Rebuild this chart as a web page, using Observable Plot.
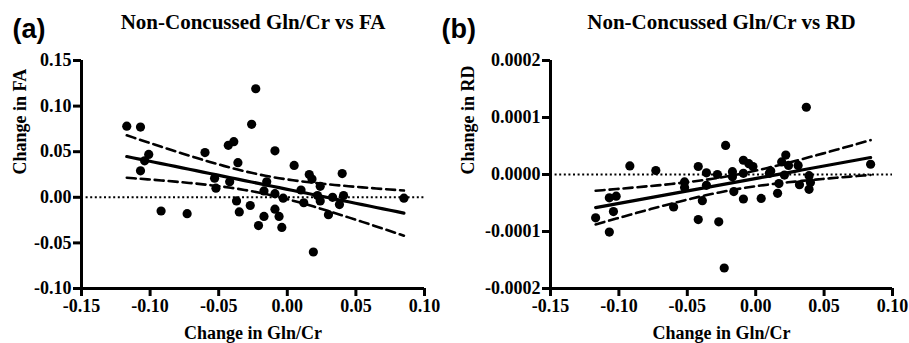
<!DOCTYPE html>
<html>
<head>
<meta charset="utf-8">
<script src="https://cdn.jsdelivr.net/npm/d3@7"></script>
<script src="https://cdn.jsdelivr.net/npm/@observablehq/plot@0.6"></script>
<style>
  html, body { margin: 0; padding: 0; background: #fff; }
  #wrap { position: relative; width: 909px; height: 343px; overflow: hidden; background: #fff; }
  #wrap > div, #wrap > svg { position: absolute; top: 0; }
</style>
</head>
<body>
<div id="wrap"></div>
<script>
// ---- Data ----
const xTicks = [-0.15, -0.10, -0.05, 0.00, 0.05, 0.10];
const faTicks = [-0.10, -0.05, 0.00, 0.05, 0.10, 0.15];
const rdTicks = [-0.0002, -0.0001, 0.0000, 0.0001, 0.0002];

const faX = [-0.117, -0.107, -0.101, -0.104, -0.107, -0.092, -0.073, -0.060, -0.053, -0.052,
             -0.043, -0.039, -0.036, -0.042, -0.037, -0.035, -0.027, -0.026, -0.023, -0.017,
             -0.021, -0.009, -0.015, -0.017, -0.009, -0.003, -0.009, -0.006, -0.004, 0.019,
             0.005, 0.010, 0.012, 0.016, 0.018, 0.024, 0.022, 0.024, 0.030, 0.033,
             0.040, 0.041, 0.038, 0.085];
const faY = [0.078, 0.077, 0.047, 0.040, 0.029, -0.015, -0.018, 0.049, 0.021, 0.010,
             0.057, 0.061, 0.038, 0.017, -0.004, -0.016, -0.009, 0.080, 0.119, -0.021,
             -0.031, 0.051, 0.017, 0.007, 0.004, -0.001, -0.013, -0.021, -0.033, -0.060,
             0.035, 0.008, -0.006, 0.025, 0.020, 0.012, 0.002, -0.004, -0.019, 0.000,
             0.026, 0.002, -0.008, -0.001];

const rdX = [-0.117, -0.107, -0.102, -0.104, -0.107, -0.092, -0.073, -0.060, -0.052, -0.052,
             -0.042, -0.036, -0.036, -0.039, -0.042, -0.027, -0.023, -0.028, -0.022, -0.017,
             -0.017, -0.016, -0.009, -0.009, -0.005, -0.009, -0.002, 0.004, 0.010, 0.016,
             0.017, 0.022, 0.019, 0.024, 0.031, 0.021, 0.032, 0.039, 0.040, 0.039,
             0.084, 0.037, 0.011];
const rdY = [-7.6e-5, -4.1e-5, -3.8e-5, -6.5e-5, -10.1e-5, 1.5e-5, 0.7e-5, -5.7e-5, -1.3e-5, -2.3e-5,
             1.4e-5, 0.3e-5, -1.9e-5, -4.6e-5, -7.9e-5, -8.3e-5, -16.4e-5, 0.0, 5.1e-5, 0.5e-5,
             -0.4e-5, -3.0e-5, -4.3e-5, 2.5e-5, 1.9e-5, 0.2e-5, 1.4e-5, -4.2e-5, 0.2e-5, -3.3e-5,
             -1.6e-5, 3.4e-5, 2.2e-5, 1.6e-5, 1.6e-5, -0.1e-5, -1.8e-5, -0.2e-5, -1.4e-5, -2.6e-5,
             1.8e-5, 11.8e-5, 0.6e-5];

const tCrit = 2.02; // 95% two-sided t value, df ≈ 41–42

// ---- Linear regression with 95% confidence band ----
function fit(xs, ys) {
  const n = xs.length, mx = d3.mean(xs), my = d3.mean(ys);
  let sxx = 0, sxy = 0;
  for (let i = 0; i < n; i++) { sxx += (xs[i] - mx) ** 2; sxy += (xs[i] - mx) * (ys[i] - my); }
  const b = sxy / sxx, a = my - b * mx;
  let sse = 0;
  for (let i = 0; i < n; i++) sse += (ys[i] - (a + b * xs[i])) ** 2;
  const s = Math.sqrt(sse / (n - 2));
  const [x0, x1] = d3.extent(xs);
  return d3.range(41).map(i => {
    const x = x0 + (x1 - x0) * i / 40;
    const yh = a + b * x;
    const h = tCrit * s * Math.sqrt(1 / n + (x - mx) ** 2 / sxx);
    return {x, y: yh, lo: yh - h, hi: yh + h};
  });
}

const serif = "Liberation Serif";
const sans = "Liberation Sans";

function panel({xs, ys, yTicks, yDigits, letter, title, ylabel, width, ml, mr, letterDx, ylabDx}) {
  const pts = xs.map((x, i) => ({x, y: ys[i]}));
  const f = fit(xs, ys);
  const yDom = [yTicks[0], yTicks[yTicks.length - 1]];
  const lab = {fontFamily: serif, fontWeight: "bold", fontSize: 18, fill: "#000"};
  return Plot.plot({
    width, height: 343,
    marginLeft: ml, marginRight: mr, marginTop: 60, marginBottom: 55,
    style: {fontFamily: serif, fontWeight: "bold", fontSize: "18px", color: "#000", background: "transparent", overflow: "visible"},
    x: {domain: [-0.15, 0.10], axis: null},
    y: {domain: yDom, axis: null},
    marks: [
      Plot.ruleY([0], {stroke: "#000", strokeWidth: 2, strokeDasharray: "2,2.6"}),
      Plot.line(f, {x: "x", y: "hi", stroke: "#000", strokeWidth: 2.6, strokeDasharray: "9,5"}),
      Plot.line(f, {x: "x", y: "lo", stroke: "#000", strokeWidth: 2.6, strokeDasharray: "9,5"}),
      Plot.line(f, {x: "x", y: "y", stroke: "#000", strokeWidth: 3.2}),
      Plot.dot(pts, {x: "x", y: "y", r: 4.6, fill: "#000", stroke: null}),
      Plot.ruleX([-0.15], {stroke: "#000", strokeWidth: 3}),
      Plot.ruleY([yDom[0]], {stroke: "#000", strokeWidth: 3, x1: -0.15, x2: 0.10}),
      // ticks
      Plot.axisX({ticks: xTicks, tickSize: 8, strokeWidth: 3, tickFormat: () => "", label: null}),
      Plot.axisY({ticks: yTicks, tickSize: 8, strokeWidth: 3, tickFormat: () => "", label: null}),
      // tick labels
      Plot.text(xTicks, {x: d => d, frameAnchor: "bottom", dy: 11, lineAnchor: "top", text: d => d.toFixed(2), ...lab}),
      Plot.text(yTicks, {y: d => d, frameAnchor: "left", dx: -10, textAnchor: "end", lineAnchor: "middle", text: d => d.toFixed(yDigits), ...lab}),
      // titles and labels
      Plot.text([title], {frameAnchor: "top", dy: -31.5, lineAnchor: "bottom", fontSize: 21, fontWeight: "bold", fontFamily: serif}),
      Plot.text([letter], {frameAnchor: "top-left", dx: letterDx, dy: -23, textAnchor: "start", lineAnchor: "bottom", fontSize: 27, fontWeight: "bold", fontFamily: sans}),
      Plot.text([ylabel], {frameAnchor: "left", dx: ylabDx, rotate: -90, lineAnchor: "bottom", ...lab}),
      Plot.text(["Change in Gln/Cr"], {frameAnchor: "bottom", dy: 50.5, lineAnchor: "bottom", ...lab})
    ]
  });
}

const wrap = document.getElementById("wrap");

const a = panel({xs: faX, ys: faY, yTicks: faTicks, yDigits: 2, letter: "(a)", title: "Non-Concussed Gln/Cr vs FA",
                 ylabel: "Change in FA", width: 440, ml: 81, mr: 16, letterDx: -69, ylabDx: -56});
a.style.left = "0px";
wrap.appendChild(a);

const b = panel({xs: rdX, ys: rdY, yTicks: rdTicks, yDigits: 4, letter: "(b)", title: "Non-Concussed Gln/Cr vs RD",
                 ylabel: "Change in RD", width: 469, ml: 110, mr: 17, letterDx: -109, ylabDx: -77});
b.style.left = "440px";
wrap.appendChild(b);
</script>
</body>
</html>
